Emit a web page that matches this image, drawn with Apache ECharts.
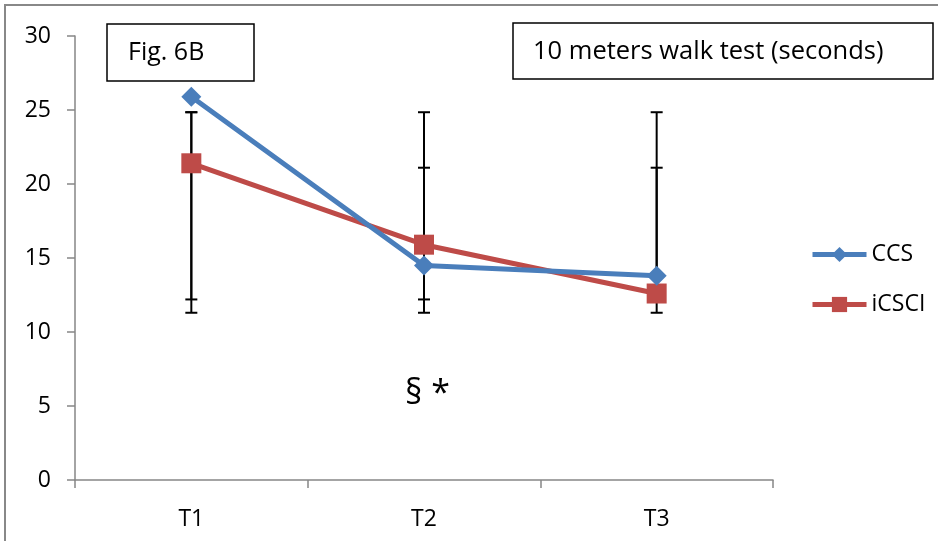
<!DOCTYPE html>
<html>
<head>
<meta charset="utf-8">
<script src="https://cdn.jsdelivr.net/npm/echarts@6/dist/echarts.min.js"></script>
<style>
html,body{margin:0;padding:0;background:#fff;}
#main{width:938px;height:541px;}
</style>
</head>
<body>
<div id="main"></div>
<script>
const categories = ['T1', 'T2', 'T3'];
const ccsValues = [25.9, 14.5, 13.8];
const icsciValues = [21.4, 15.9, 12.6];
const ccsErrLow = [12.2, 12.2, 12.2];
const ccsErrHigh = [24.85, 21.1, 21.1];
const icsciErrLow = [11.3, 11.3, 11.3];
const icsciErrHigh = [24.85, 24.85, 24.85];
const yTicks = [0, 5, 10, 15, 20, 25, 30];
const figLabel = 'Fig. 6B';
const titleText = '10 meters walk test (seconds)';
const annotation = '§ *';

const FONT = 'Open Sans';
const chart = echarts.init(document.getElementById('main'), null, {renderer: 'canvas'});

function errData(lo, hi) {
  return categories.map((c, i) => [i, lo[i], hi[i]]);
}
function renderErr(params, api) {
  const x = api.value(0);
  const top = api.coord([x, api.value(2)]);
  const bot = api.coord([x, api.value(1)]);
  const hw = 6;
  const style = {stroke: '#000', lineWidth: 2};
  return {
    type: 'group',
    children: [
      {type: 'line', shape: {x1: top[0], y1: top[1], x2: bot[0], y2: bot[1]}, style},
      {type: 'line', shape: {x1: top[0] - hw, y1: top[1], x2: top[0] + hw, y2: top[1]}, style},
      {type: 'line', shape: {x1: bot[0] - hw, y1: bot[1], x2: bot[0] + hw, y2: bot[1]}, style}
    ]
  };
}

const axisColor = '#868686';
chart.setOption({
  animation: false,
  backgroundColor: '#fff',
  grid: {left: 75, right: 165, top: 36, bottom: 61},
  legend: {
    orient: 'vertical',
    left: 810,
    top: 243,
    padding: 0,
    itemWidth: 54,
    itemHeight: 19,
    itemGap: 27,
    data: ['CCS', 'iCSCI'],
    lineStyle: {width: 5},
    textStyle: {fontFamily: FONT, fontSize: 23, color: '#000', lineHeight: 20}
  },
  xAxis: {
    type: 'category',
    data: categories,
    boundaryGap: true,
    axisLine: {lineStyle: {color: axisColor, width: 1.5}},
    axisTick: {show: true, length: 8, lineStyle: {color: axisColor, width: 1.5}},
    axisLabel: {fontFamily: FONT, fontSize: 23, color: '#000', margin: 28}
  },
  yAxis: {
    type: 'value',
    min: yTicks[0],
    max: yTicks[yTicks.length - 1],
    interval: 5,
    splitLine: {show: false},
    axisLine: {show: true, lineStyle: {color: axisColor, width: 1.5}},
    axisTick: {show: true, length: 8, lineStyle: {color: axisColor, width: 1.5}},
    axisLabel: {fontFamily: FONT, fontSize: 23, color: '#000', margin: 24}
  },
  series: [
    {
      type: 'custom', name: 'errCCS', renderItem: renderErr,
      data: errData(ccsErrLow, ccsErrHigh), encode: {x: 0, y: [1, 2]}, z: 1, silent: true
    },
    {
      type: 'custom', name: 'erriCSCI', renderItem: renderErr,
      data: errData(icsciErrLow, icsciErrHigh), encode: {x: 0, y: [1, 2]}, z: 1, silent: true
    },
    {
      name: 'CCS', type: 'line', data: ccsValues, z: 3,
      symbol: 'diamond', symbolSize: 20,
      lineStyle: {color: '#4A7EBB', width: 5},
      itemStyle: {color: '#4A7EBB'}
    },
    {
      name: 'iCSCI', type: 'line', data: icsciValues, z: 2,
      symbol: 'rect', symbolSize: 20,
      lineStyle: {color: '#BE4B48', width: 5},
      itemStyle: {color: '#BE4B48'}
    }
  ],
  graphic: [
    {type: 'rect', shape: {x: 5, y: 5, width: 1000, height: 1000}, style: {fill: 'none', stroke: '#888', lineWidth: 2}, z: 0},
    {type: 'rect', shape: {x: 107, y: 24, width: 147, height: 57}, style: {fill: '#fff', stroke: '#000', lineWidth: 1.5}, z: 10},
    {type: 'text', x: 128, y: 53, style: {text: figLabel, fontFamily: FONT, fontSize: 25, fill: '#000', verticalAlign: 'middle'}, z: 11},
    {type: 'rect', shape: {x: 513, y: 23, width: 420, height: 56}, style: {fill: '#fff', stroke: '#000', lineWidth: 1.5}, z: 10},
    {type: 'text', x: 533, y: 52, style: {text: titleText, fontFamily: FONT, fontSize: 25.5, fill: '#000', verticalAlign: 'middle'}, z: 11},
    {type: 'text', x: 405, y: 394, style: {text: annotation, fontFamily: FONT, fontSize: 34, fill: '#000', verticalAlign: 'middle'}, z: 11}
  ]
});
</script>
</body>
</html>
